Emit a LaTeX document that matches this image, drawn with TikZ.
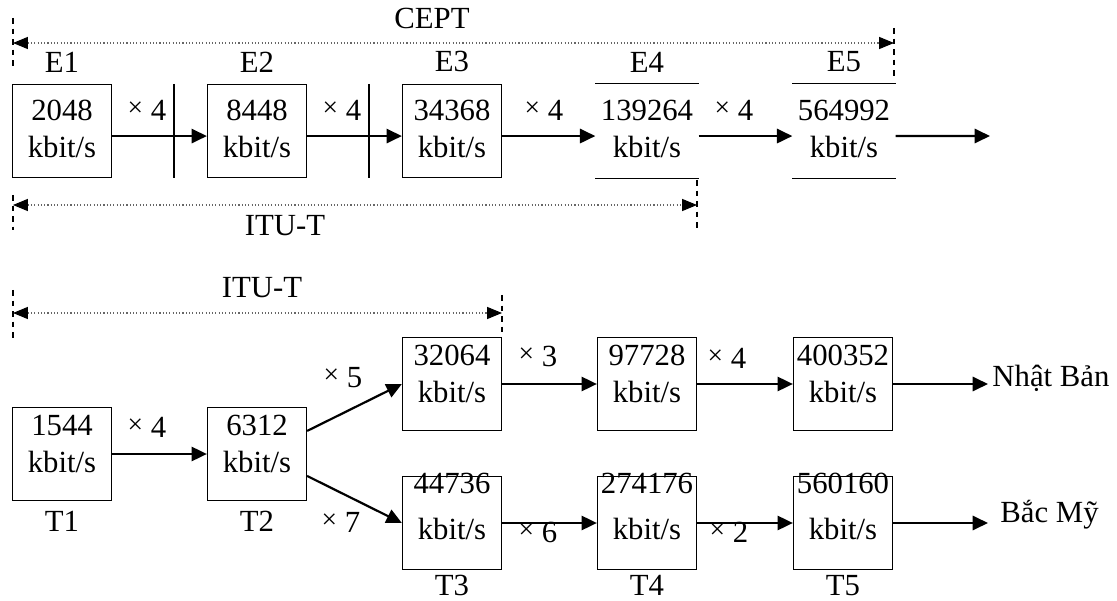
\documentclass[tikz,border=0pt]{standalone}
\usepackage{fontspec}
\setmainfont{Liberation Serif}
\usetikzlibrary{arrows.meta,positioning}
\newcommand\xmul{\raisebox{1.8pt}{\fontsize{12.5}{12.5}\selectfont ×}}
\tikzset{
  box/.style={draw, line width=0.7pt, minimum width=1.58cm, minimum height=1.49cm, inner sep=0pt},
  openbox/.style={minimum width=1.64cm, minimum height=1.5cm, inner sep=0pt},
  rate/.style={align=center, inner sep=0pt, font=\fontsize{14}{17}\selectfont},
  lowrate/.style={rate, font=\fontsize{14}{21}\selectfont},
  tag/.style={inner sep=0pt, font=\fontsize{14}{16}\selectfont},
  mult/.style={inner sep=0pt, font=\fontsize{14}{16}\selectfont},
  link/.style={-{Triangle[length=7pt,width=6.5pt]}, line width=1pt},
  span/.style={{Triangle[length=6.8pt,width=5.5pt,color=black]}-{Triangle[length=6.8pt,width=5.5pt,color=black]},
    densely dotted, line width=0.5pt, black!60},
  vtick/.style={line width=0.9pt, dash pattern=on 2.6pt off 2.2pt},
  divider/.style={line width=0.7pt},
  rim/.style={line width=0.7pt}
}

\begin{document}
\begin{tikzpicture}[x=0.016cm, y=-0.016cm]
  \useasboundingbox (0,0) rectangle (1117,601);

  % CEPT range
  \node[tag] (cept) at (432,18) {CEPT};
  \coordinate (ceptL) at (13,43);
  \coordinate (ceptR) at (894,43);
  \draw[span] (ceptL) -- (ceptR);
  \draw[vtick] (13,18) -- (13,67);
  \draw[vtick] (894,28) -- (894,76);

  % E hierarchy
  \node[box] (e1) at (62,131) {};
  \node[box] (e2) at (257,131) {};
  \node[box] (e3) at (452,131) {};
  \node[openbox] (e4) at (647,131) {};
  \node[openbox] (e5) at (844,131) {};
  \draw[rim] (e4.north west) -- (e4.north east) (e4.south west) -- (e4.south east);
  \draw[rim] (e5.north west) -- (e5.north east) (e5.south west) -- (e5.south east);

  \node[rate, below=7.3pt of e1.north] (r1) {2048\\kbit/s};
  \node[rate, below=7.3pt of e2.north] (r2) {8448\\kbit/s};
  \node[rate, below=7.3pt of e3.north] (r3) {34368\\kbit/s};
  \node[rate, below=7.3pt of e4.north] (r4) {139264\\kbit/s};
  \node[rate, below=7.3pt of e5.north] (r5) {564992\\kbit/s};

  \node[tag, above=5pt of e1] (le1) {E1};
  \node[tag, above=5pt of e2] (le2) {E2};
  \node[tag, above=5pt of e3] (le3) {E3};
  \node[tag, above=5pt of e4] (le4) {E4};
  \node[tag, above=5pt of e5] (le5) {E5};

  \draw[divider] (174,84) -- (174,178);
  \draw[divider] (369,84) -- (369,178);

  \coordinate (eout) at (990,136);
  \draw[link] ([yshift=-2.3pt]e1.east) -- ([yshift=-2.3pt]e2.west);
  \draw[link] ([yshift=-2.3pt]e2.east) -- ([yshift=-2.3pt]e3.west);
  \draw[link] ([yshift=-2.3pt]e3.east) -- ([yshift=-2.3pt]e4.west);
  \draw[link] ([yshift=-2.3pt]e4.east) -- ([yshift=-2.3pt]e5.west);
  \draw[link] ([yshift=-2.3pt]e5.east) -- (eout);

  \node[mult] (m12) at (147,110) {\xmul\ 4};
  \node[mult] (m23) at (342,110) {\xmul\ 4};
  \node[mult] (m34) at (544,110) {\xmul\ 4};
  \node[mult] (m45) at (734,110) {\xmul\ 4};

  % ITU-T range, E side
  \node[tag] (itue) at (285,226) {ITU-T};
  \coordinate (ituL) at (13,205);
  \coordinate (ituR) at (697,205);
  \draw[span] (ituL) -- (ituR);
  \draw[vtick] (13,195) -- (13,230);
  \draw[vtick] (697,180) -- (697,230);

  % ITU-T range, T side
  \node[tag] (itut) at (262,288) {ITU-T};
  \coordinate (itutL) at (13,313);
  \coordinate (itutR) at (502,313);
  \draw[span] (itutL) -- (itutR);
  \draw[vtick] (13,290) -- (13,338);
  \draw[vtick] (502,295) -- (502,333);

  % T hierarchy
  \node[box] (t1) at (62,454) {};
  \node[box] (t2) at (257,454) {};
  \node[box] (j3) at (452,384) {};
  \node[box] (j4) at (647,384) {};
  \node[box] (j5) at (843,384) {};
  \node[box] (a3) at (452,523) {};
  \node[box] (a4) at (647,523) {};
  \node[box] (a5) at (843,523) {};

  \node[rate, below=3.6pt of t1.north] (rt1) {1544\\kbit/s};
  \node[rate, below=3.6pt of t2.north] (rt2) {6312\\kbit/s};
  \node[rate, below=3.6pt of j3.north] (rj3) {32064\\kbit/s};
  \node[rate, below=3.6pt of j4.north] (rj4) {97728\\kbit/s};
  \node[rate, below=3.6pt of j5.north] (rj5) {400352\\kbit/s};
  \node[lowrate, below=-1.5pt of a3.north] (ra3) {44736\\kbit/s};
  \node[lowrate, below=-1.5pt of a4.north] (ra4) {274176\\kbit/s};
  \node[lowrate, below=-1.5pt of a5.north] (ra5) {560160\\kbit/s};

  \node[tag, below=4.5pt of t1] (lt1) {T1};
  \node[tag, below=4.5pt of t2] (lt2) {T2};
  \node[tag, below=2pt of a3] (lt3) {T3};
  \node[tag, below=2pt of a4] (lt4) {T4};
  \node[tag, below=2pt of a5] (lt5) {T5};

  \coordinate (jout) at (988,384);
  \coordinate (aout) at (988,523);
  \draw[link] (t1) -- (t2);
  \draw[link] ([yshift=10.5pt]t2.east) -- (j3.west);
  \draw[link] ([yshift=-10pt]t2.east) -- (a3.west);
  \draw[link] (j3) -- (j4);
  \draw[link] (j4) -- (j5);
  \draw[link] (j5) -- (jout);
  \draw[link] (a3) -- (a4);
  \draw[link] (a4) -- (a5);
  \draw[link] (a5) -- (aout);

  \node[mult] (mt12) at (147,427) {\xmul\ 4};
  \node[mult] (mj) at (343,378) {\xmul\ 5};
  \node[mult] (ma) at (341,522) {\xmul\ 7};
  \node[mult] (mj34) at (538,356) {\xmul\ 3};
  \node[mult] (mj45) at (727,358) {\xmul\ 4};
  \node[mult] (ma34) at (538,532) {\xmul\ 6};
  \node[mult] (ma45) at (729,532) {\xmul\ 2};

  \node[tag, anchor=west] (japan) at (992,378) {Nhật Bản};
  \node[tag, anchor=west] (usa) at (1000,515) {Bắc Mỹ};
\end{tikzpicture}
\end{document}
